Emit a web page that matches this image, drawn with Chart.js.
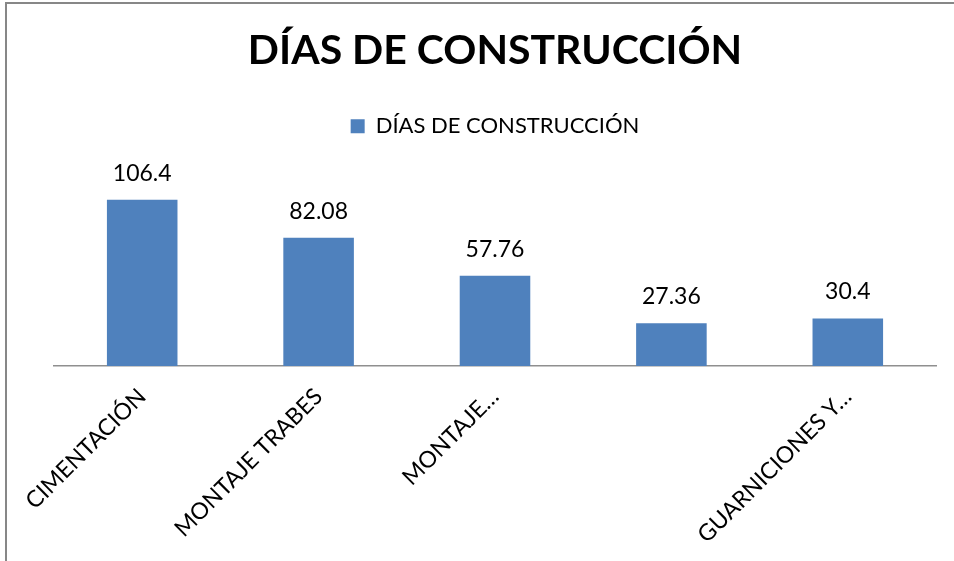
<!DOCTYPE html>
<html>
<head>
<meta charset="utf-8">
<script src="https://cdn.jsdelivr.net/npm/chart.js@4.4.1/dist/chart.umd.min.js"></script>
<style>
  body { margin: 0; overflow: hidden; background: #fff; }
  #wrap { position: relative; width: 954px; height: 561px; }
  #frame {
    position: absolute; left: 5px; top: 2px; right: -10px; bottom: -10px;
    border-left: 2px solid #878787; border-top: 2px solid #878787;
    pointer-events: none;
  }
</style>
</head>
<body>
<div id="wrap">
  <canvas id="dias"></canvas>
  <div id="frame"></div>
</div>
<script>
// categorias (la cuarta viene sin texto en la hoja)
const categorias = ['CIMENTACIÓN', 'MONTAJE TRABES', 'MONTAJE…', '', 'GUARNICIONES Y…'];
const dias = [106.4, 82.08, 57.76, 27.36, 30.4];
const serie = 'DÍAS DE CONSTRUCCIÓN';

const fuente = 'Lato, "Open Sans", sans-serif';

// etiqueta con el valor encima de cada barra
const valoresPlugin = {
    id: 'valores',
    afterDatasetsDraw(chart) {
        const ctx = chart.ctx;
        const meta = chart.getDatasetMeta(0);
        ctx.save();
        ctx.font = '23px ' + fuente;
        ctx.fillStyle = '#000';
        ctx.textAlign = 'center';
        ctx.textBaseline = 'alphabetic';
        meta.data.forEach((bar, i) => {
            ctx.fillText(String(dias[i]), bar.x, bar.y - 19);
        });
        ctx.restore();
    }
};

const ctx = document.getElementById('dias').getContext('2d');
let grafica = new Chart(ctx, {
    type: 'bar',
    data: {
        labels: categorias,
        datasets: [{
            label: serie,
            data: dias,
            backgroundColor: '#4f81bd',
            categoryPercentage: 1,
            barPercentage: 0.4
        }]
    },
    options: {
        responsive: true,
        maintainAspectRatio: false,
        animation: false,
        layout: { padding: { left: 54, right: 18, top: 0, bottom: 0 } },
        plugins: {
            title: {
                display: true,
                text: serie,
                color: '#000',
                font: { family: fuente, size: 41, weight: 'bold' },
                padding: { top: 26, bottom: 30 }
            },
            legend: {
                display: true,
                labels: {
                    color: '#000',
                    font: { family: fuente, size: 22 },
                    boxWidth: 14,
                    boxHeight: 14,
                    padding: 10
                }
            },
            tooltip: { enabled: false }
        },
        scales: {
            x: {
                grid: { display: false, drawTicks: false },
                border: { display: true, color: '#8f8f8f', width: 1.5 },
                ticks: {
                    color: '#000',
                    font: { family: fuente, size: 23 },
                    autoSkip: false,
                    minRotation: 45,
                    maxRotation: 45,
                    padding: 17
                },
                afterFit(scale) { scale.height = 195; }
            },
            y: {
                display: false,
                min: 0,
                max: 140
            }
        }
    },
    plugins: [valoresPlugin]
});
</script>
</body>
</html>
